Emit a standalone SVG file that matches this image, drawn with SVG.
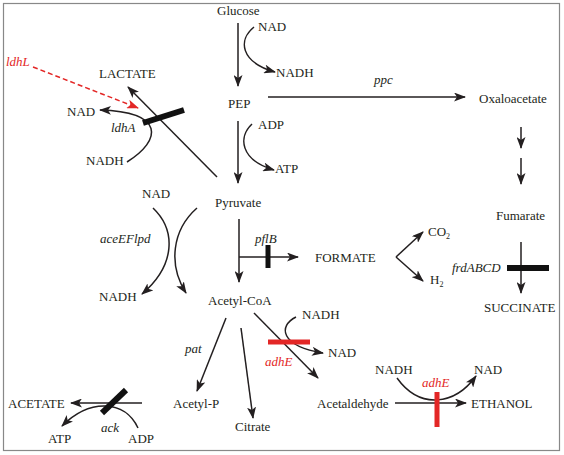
<svg xmlns="http://www.w3.org/2000/svg" width="564" height="455" viewBox="0 0 564 455">
<style>
text{font-family:'Liberation Serif','Times New Roman','DejaVu Serif',serif;font-size:13px;fill:#231f20}
.i{font-style:italic}
.r{fill:#e32726}
.ln{fill:none;stroke:#231f20;stroke-width:1.5}
.a{marker-end:url(#ah)}
.bar{stroke:#111;stroke-width:6;fill:none}
.rbar{stroke:#e32726;stroke-width:5;fill:none}
.sub{font-size:8px}
</style>
<defs>
<marker id="ah" viewBox="0 0 12 9" refX="11" refY="4.5" markerWidth="12" markerHeight="9" markerUnits="userSpaceOnUse" orient="auto">
<path d="M0,0 L12,4.5 L0,9 L3,4.5 z" fill="#231f20"/>
</marker>
<marker id="ahr" viewBox="0 0 12 9" refX="11" refY="4.5" markerWidth="12" markerHeight="9" markerUnits="userSpaceOnUse" orient="auto">
<path d="M0,0 L12,4.5 L0,9 L3,4.5 z" fill="#e32726"/>
</marker>
</defs>
<rect x="0" y="0" width="564" height="455" fill="#fff"/>
<rect x="3.5" y="3.5" width="556" height="447" fill="#fff" stroke="#888" stroke-width="1.2"/>

<g id="nodes" font-family="Liberation Serif, serif">
<g id="glucose"><text x="217" y="15">Glucose</text></g>
<g id="nad1"><text x="258" y="31">NAD</text></g>
<g id="nadh1"><text x="276" y="77">NADH</text></g>
<g id="pep"><text x="228" y="108">PEP</text></g>
<g id="ppc"><text class="i" x="374" y="84">ppc</text></g>
<g id="oxaloacetate"><text x="479" y="103">Oxaloacetate</text></g>
<g id="adp1"><text x="258" y="129">ADP</text></g>
<g id="atp1"><text x="275" y="173">ATP</text></g>
<g id="pyruvate"><text x="215" y="207">Pyruvate</text></g>
<g id="fumarate"><text x="496" y="220">Fumarate</text></g>
<g id="lactate"><text x="99" y="78">LACTATE</text></g>
<g id="nad2"><text x="67" y="116">NAD</text></g>
<g id="ldhA"><text class="i" x="111" y="132">ldhA</text></g>
<g id="nadh2"><text x="86" y="165">NADH</text></g>
<g id="ldhL"><text class="i r" x="6" y="66">ldhL</text></g>
<g id="nad3"><text x="142" y="198">NAD</text></g>
<g id="aceEFlpd"><text class="i" x="100" y="243">aceEFlpd</text></g>
<g id="nadh3"><text x="99" y="301">NADH</text></g>
<g id="pflB"><text class="i" x="255" y="243">pflB</text></g>
<g id="formate"><text x="315" y="262">FORMATE</text></g>
<g id="co2"><text x="428" y="236">CO<tspan class="sub" dy="3">2</tspan></text></g>
<g id="h2"><text x="430" y="284">H<tspan class="sub" dy="3">2</tspan></text></g>
<g id="frdABCD"><text class="i" x="452" y="272">frdABCD</text></g>
<g id="succinate"><text x="484" y="312">SUCCINATE</text></g>
<g id="acetylcoa"><text x="208" y="305">Acetyl-CoA</text></g>
<g id="nadh4"><text x="302" y="319">NADH</text></g>
<g id="nad4"><text x="328" y="357">NAD</text></g>
<g id="adhE1"><text class="i r" x="265" y="366">adhE</text></g>
<g id="pat"><text class="i" x="185" y="353">pat</text></g>
<g id="acetylp"><text x="173" y="408">Acetyl-P</text></g>
<g id="citrate"><text x="235" y="431">Citrate</text></g>
<g id="acetaldehyde"><text x="317" y="408">Acetaldehyde</text></g>
<g id="nadh5"><text x="375" y="374">NADH</text></g>
<g id="nad5"><text x="474" y="374">NAD</text></g>
<g id="adhE2"><text class="i r" x="422" y="387">adhE</text></g>
<g id="ethanol"><text x="471" y="408">ETHANOL</text></g>
<g id="acetate"><text x="8" y="408">ACETATE</text></g>
<g id="atp2"><text x="48" y="443">ATP</text></g>
<g id="ack"><text class="i" x="101" y="432">ack</text></g>
<g id="adp2"><text x="128" y="443">ADP</text></g>
</g>

<g id="connectors">
<path class="ln a" d="M238,23 L238,86"/>
<path class="ln a" d="M254,27 C238,40 240,62 275,72"/>
<path class="ln a" d="M268,97 L465,97"/>
<path class="ln a" d="M238,121 L238,183"/>
<path class="ln a" d="M252,124 C238,137 240,160 274,170"/>
<path class="ln a" d="M521,127 L521,148"/>
<path class="ln a" d="M521,158 L521,184"/>
<path class="ln a" d="M217,177 L128,87"/>
<path class="ln a" d="M127,162 C162,140 165,112 100,110"/>
<path class="bar" d="M143,123 L184,110"/>
<path fill="none" stroke="#e32726" stroke-width="1.5" stroke-dasharray="5,3" marker-end="url(#ahr)" d="M33,67 L138,108"/>
<path class="ln a" d="M153,208 C176,230 176,265 142,294"/>
<path class="ln a" d="M197,208 C172,230 168,265 186,293"/>
<path class="ln a" d="M239,219 L239,282"/>
<path class="ln a" d="M239,257 L298,257"/>
<path class="bar" style="stroke-width:5" d="M268,245 L268,268"/>
<path class="ln a" d="M396,257 L423,232"/>
<path class="ln a" d="M396,257 L423,281"/>
<path class="ln a" d="M521,242 L521,293"/>
<path class="bar" d="M507,268 L549,268"/>
<path class="ln a" d="M226,318 L197,391"/>
<path class="ln a" d="M241,328 L253,418"/>
<path class="ln a" d="M254,313 L318,378"/>
<path class="ln a" d="M296,317 C278,326 280,346 323,353"/>
<path class="rbar" d="M268,342 L310,342"/>
<path class="ln a" d="M395,403 L466,403"/>
<path class="ln a" d="M397,378 C420,410 455,405 476,376"/>
<path class="rbar" d="M437,392 L437,427"/>
<path class="ln a" d="M142,403 L71,403"/>
<path class="ln a" d="M138,428 C125,400 90,398 62,426"/>
<path class="bar" d="M102,413 L126,390"/>
</g>
</svg>
